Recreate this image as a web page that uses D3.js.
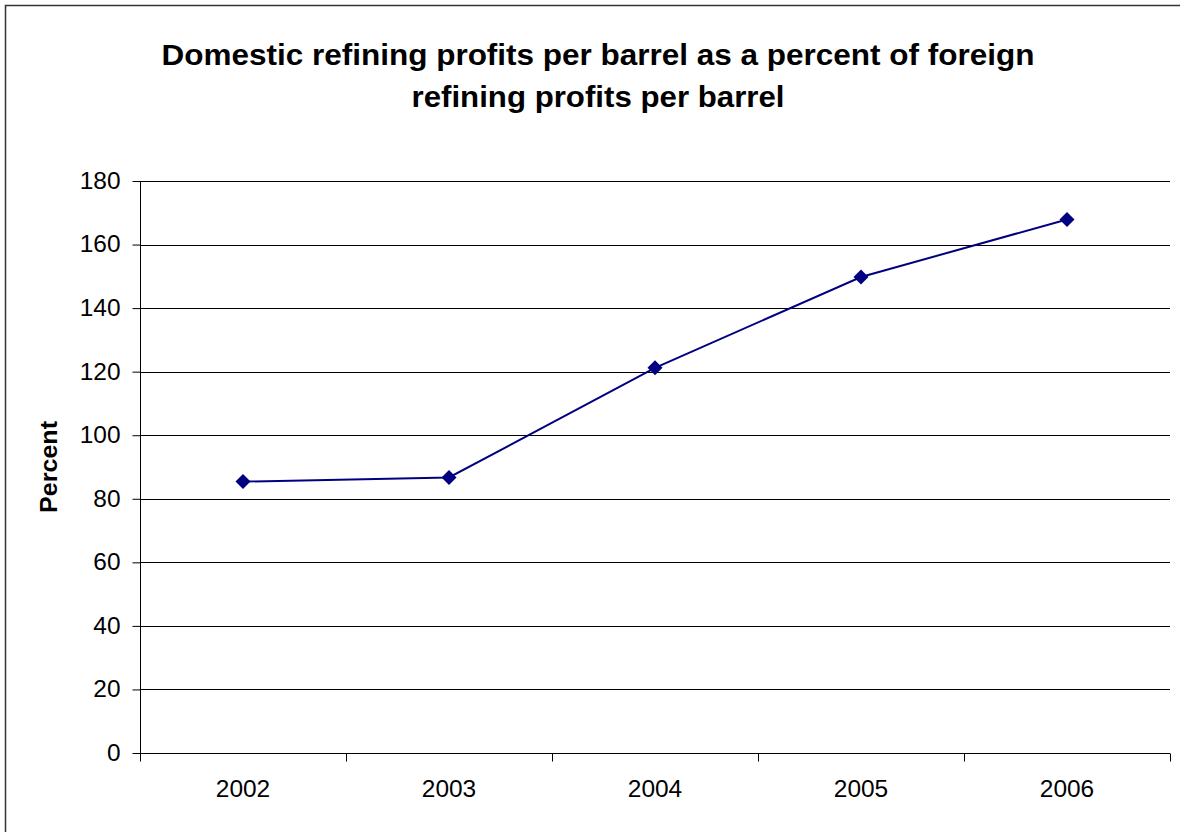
<!DOCTYPE html>
<html>
<head>
<meta charset="utf-8">
<script src="https://cdn.jsdelivr.net/npm/d3@7"></script>
<style>
  html, body { margin: 0; padding: 0; background: #fff; }
  svg { display: block; }
  text { font-family: "Liberation Sans", Arial, sans-serif; fill: #000; }
</style>
</head>
<body>
<svg id="chart" width="1180" height="832"></svg>
<script>
// Refining profit ratio, domestic vs foreign (percent)
const years = ["2002", "2003", "2004", "2005", "2006"];
const percentValues = [85.4, 86.7, 121.2, 149.8, 167.9];
const yTicks = [0, 20, 40, 60, 80, 100, 120, 140, 160, 180];
const titleLines = [
  "Domestic refining profits per barrel as a percent of foreign",
  "refining profits per barrel"
];
const yAxisLabel = "Percent";

const W = 1180, H = 832;
const plot = { left: 140, right: 1170, top: 181, bottom: 753 };
const digitWidth = 13.6; // glyphs are drawn slightly wide

const svg = d3.select("#chart");

// outer chart frame
svg.append("rect")
  .attr("x", 5.5).attr("y", 5.5)
  .attr("width", W + 20).attr("height", H + 20)
  .attr("fill", "none").attr("stroke", "#333").attr("stroke-width", 1.5);

const x = d3.scaleBand().domain(years).range([plot.left, plot.right]);
const y = d3.scaleLinear().domain([0, 180]).range([plot.bottom, plot.top]);

// horizontal gridlines
svg.append("g")
  .selectAll("line")
  .data(yTicks.filter(d => d > 0))
  .join("line")
  .attr("x1", plot.left).attr("x2", plot.right)
  .attr("y1", d => Math.round(y(d)) + 0.5).attr("y2", d => Math.round(y(d)) + 0.5)
  .attr("stroke", "#000").attr("stroke-width", 1);

// y axis
const yAxis = svg.append("g")
  .attr("transform", `translate(${plot.left + 0.5},0)`)
  .call(d3.axisLeft(y).tickValues(yTicks).tickSize(8).tickPadding(12).tickFormat(d3.format("d")));
yAxis.select(".domain").attr("stroke", "#000").attr("d", `M0,${plot.top}V${plot.bottom}`);
yAxis.selectAll(".tick line").attr("stroke", "#000");
yAxis.selectAll(".tick text")
  .style("font-family", '"Liberation Sans", Arial, sans-serif')
  .style("font-size", "23px").attr("fill", "#000")
  .attr("textLength", d => String(d).length * digitWidth)
  .attr("lengthAdjust", "spacingAndGlyphs");

// x axis with ticks between categories
const xAxis = svg.append("g")
  .attr("transform", `translate(0,${Math.round(y(0)) + 0.5})`);
xAxis.append("line")
  .attr("x1", plot.left).attr("x2", plot.right)
  .attr("stroke", "#000");
xAxis.selectAll(".sep")
  .data(years.concat(["end"]))
  .join("line")
  .attr("class", "sep")
  .attr("x1", (d, i) => Math.round(plot.left + i * x.step()) + 0.5)
  .attr("x2", (d, i) => Math.round(plot.left + i * x.step()) + 0.5)
  .attr("y1", 0).attr("y2", 8)
  .attr("stroke", "#000");
xAxis.selectAll(".lab")
  .data(years)
  .join("text")
  .attr("class", "lab")
  .attr("x", d => x(d) + x.bandwidth() / 2)
  .attr("y", 43)
  .attr("text-anchor", "middle")
  .style("font-size", "23px")
  .attr("textLength", d => d.length * digitWidth)
  .attr("lengthAdjust", "spacingAndGlyphs")
  .text(d => d);

// data line
const line = d3.line()
  .x((d, i) => x(years[i]) + x.bandwidth() / 2)
  .y(d => y(d));
svg.append("path")
  .datum(percentValues)
  .attr("d", line)
  .attr("fill", "none")
  .attr("stroke", "#000080")
  .attr("stroke-width", 2);

// diamond markers
svg.append("g")
  .selectAll("path")
  .data(percentValues)
  .join("path")
  .attr("transform", (d, i) => `translate(${x(years[i]) + x.bandwidth() / 2},${y(d)})`)
  .attr("d", "M0,-7.5L7.5,0L0,7.5L-7.5,0Z")
  .attr("fill", "#000080");

// title
const titleWidths = [873, 373];
svg.append("g")
  .selectAll("text")
  .data(titleLines)
  .join("text")
  .attr("x", 598)
  .attr("y", (d, i) => 65 + i * 42)
  .attr("text-anchor", "middle")
  .style("font-size", "29px").style("font-weight", "bold")
  .attr("textLength", (d, i) => titleWidths[i])
  .attr("lengthAdjust", "spacingAndGlyphs")
  .text(d => d);

// y axis title
svg.append("text")
  .attr("transform", `translate(57,${(plot.top + plot.bottom) / 2}) rotate(-90)`)
  .attr("text-anchor", "middle")
  .style("font-size", "24px").style("font-weight", "bold")
  .attr("textLength", 92)
  .attr("lengthAdjust", "spacingAndGlyphs")
  .text(yAxisLabel);
</script>
</body>
</html>
